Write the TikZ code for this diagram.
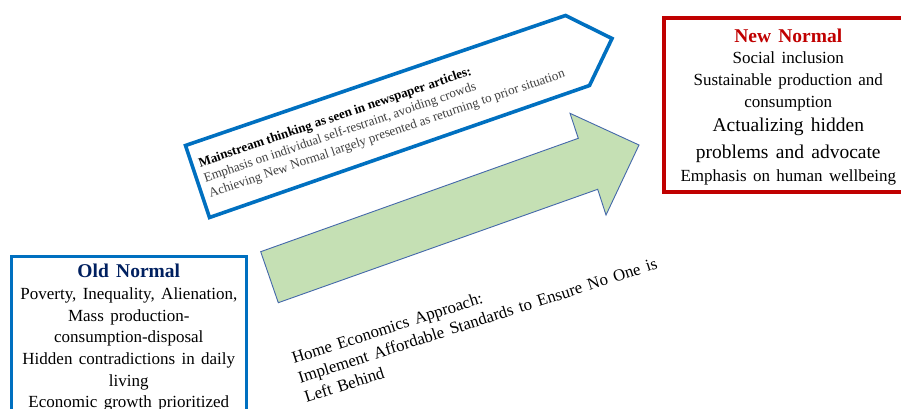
\documentclass[tikz,border=0pt]{standalone}
\usepackage{fontspec}
\setmainfont{Liberation Serif}
\newfontfamily\boxfont{Liberation Serif}[WordSpace={1.5}]
\definecolor{offblue}{RGB}{0,112,192}
\definecolor{navy}{RGB}{0,32,96}
\definecolor{darkred}{RGB}{192,0,0}
\definecolor{lgreen}{RGB}{197,224,180}
\definecolor{gborder}{RGB}{68,104,170}
\definecolor{txtgray}{RGB}{64,64,64}
\tikzset{
  txt/.style={inner sep=0pt, text=black},
  bluebox/.style={draw=offblue, line width=3.6pt, line join=miter},
  redbox/.style={draw=darkred, line width=4pt},
  greenarrow/.style={fill=lgreen, draw=gborder, line width=0.9pt, line join=miter}
}
\begin{document}
\begin{tikzpicture}[x=1pt,y=-1pt]
\useasboundingbox (0,0) rectangle (901,409);
\clip (0,0) rectangle (901,409);
\fill[white] (0,0) rectangle (901,409);

% mainstream-thinking pentagon arrow
\draw[bluebox] (209.5,217.5) -- (185.5,145.5) -- (565.5,15.5) -- (612,38.5) -- (589.5,85.5) -- cycle;

% green arrow
\draw[greenarrow] (260.7,251.7) -- (578.3,138.3) -- (570,113.3) -- (639,145) -- (606,215) -- (597.7,189.3) -- (278.3,302.7) -- cycle;

% Old Normal box
\draw[bluebox] (11.3,256.3) rectangle (246.3,440);
\node[txt, anchor=north, align=center, font=\boxfont\fontsize{17}{21.7}\selectfont] (old) at (128.8,264)
  {{\bfseries\fontsize{19.5}{21.7}\selectfont\color{navy}Old Normal}\\
   Poverty, Inequality, Alienation,\\
   Mass production-\\
   consumption-disposal\\
   Hidden contradictions in daily\\
   living\\
   Economic growth prioritized};

% New Normal box
\draw[redbox] (663.5,18.5) rectangle (930,191.5);
\node[txt, anchor=north, align=center, font=\boxfont\fontsize{17}{21.7}\selectfont] (new) at (788.3,28.5)
  {{\bfseries\fontsize{19.5}{21.7}\selectfont\color{darkred}New Normal}\\
   Social inclusion\\
   Sustainable production and\\
   consumption\\[2.3pt]
   {\fontsize{19.5}{24}\selectfont Actualizing hidden}\\[5.3pt]
   {\fontsize{19.5}{24}\selectfont problems and advocate}\\[1.3pt]
   Emphasis on human wellbeing};

% text inside the pentagon
\node[txt, rotate=18.8, anchor=west, align=left, font=\fontsize{13.1}{16.1}\selectfont] (main) at (204.3,179.5)
  {\textbf{Mainstream thinking as seen in newspaper articles:}\\
   {\color{txtgray}Emphasis on individual self-restraint, avoiding crowds}\\
   {\color{txtgray}Achieving New Normal largely presented as returning to prior situation}};

% home economics text
\node[txt, rotate=17.8, anchor=west, align=left, font=\boxfont\fontsize{16.8}{20.5}\selectfont] (home) at (298.4,378)
  {Home Economics Approach:\\
   Implement Affordable Standards to Ensure No One is\\
   Left Behind};
\end{tikzpicture}
\end{document}
